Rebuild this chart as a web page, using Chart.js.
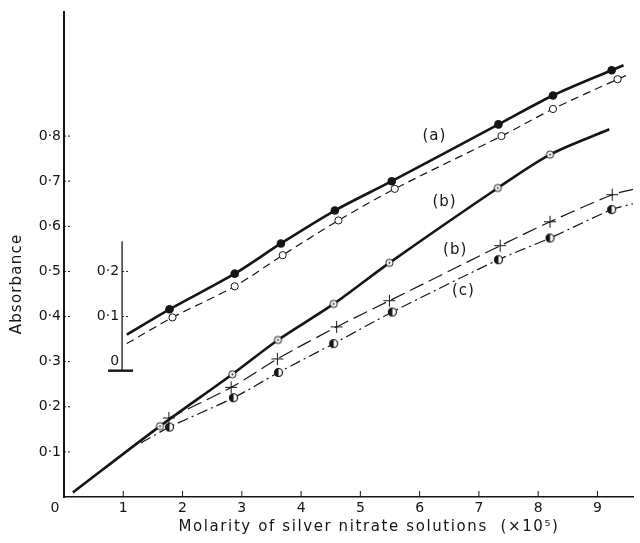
<!DOCTYPE html>
<html lang="en">
<head>
<meta charset="UTF-8">
<title>Absorbance vs molarity of silver nitrate</title>
<script src="https://cdn.jsdelivr.net/npm/chart.js"></script>
<style>
  html, body { margin: 0; padding: 0; background: #fff; }
  #wrap { width: 640px; height: 543px; }
</style>
</head>
<body>
<div id="wrap"><canvas id="chart" width="640" height="543"></canvas></div>
<script>
// axis ticks
const xTicks = [1, 2, 3, 4, 5, 6, 7, 8, 9];
const yTicks = [0.1, 0.2, 0.3, 0.4, 0.5, 0.6, 0.7, 0.8];
// small inset scale used for curve (a), shifted up by 0.3
const insetTicks = [0, 0.1, 0.2];
const insetShift = 0.3;

// (a) filled circles, solid line
const aFilledX = [1.78, 2.88, 3.66, 4.57, 5.53, 7.33, 8.25, 9.24];
const aFilledY = [0.416, 0.495, 0.562, 0.635, 0.700, 0.826, 0.890, 0.946];
const aFilledEnds = [[1.06, 0.360], [9.44, 0.957]];

// (a) open circles, dashed line
const aOpenX = [1.83, 2.88, 3.69, 4.63, 5.58, 7.38, 8.25, 9.34];
const aOpenY = [0.398, 0.467, 0.536, 0.613, 0.683, 0.800, 0.860, 0.926];
const aOpenEnds = [[1.06, 0.340], [9.50, 0.935]];

// (b) dotted circles, solid line
const bDotX = [1.62, 2.84, 3.61, 4.55, 5.49, 7.32, 8.20];
const bDotY = [0.157, 0.272, 0.348, 0.428, 0.519, 0.685, 0.759];
const bDotEnds = [[0.15, 0.010], [9.20, 0.815]];

// (b) crosses, long dashed line
const bPlusX = [1.77, 2.82, 3.60, 4.60, 5.49, 7.36, 8.20, 9.25];
const bPlusY = [0.175, 0.243, 0.306, 0.377, 0.435, 0.557, 0.610, 0.670];
const bPlusEnds = [null, [9.60, 0.682]];

// (c) half filled circles, dash-dot line
const cHalfX = [1.78, 2.86, 3.62, 4.55, 5.54, 7.33, 8.20, 9.24];
const cHalfY = [0.155, 0.220, 0.276, 0.340, 0.410, 0.526, 0.574, 0.637];
const cHalfEnds = [[1.30, 0.120], [9.60, 0.650]];

const curveLabels = ['(a)', '(b)', '(b)', '(c)'];
const curveLabelX = [6.25, 6.42, 6.60, 6.74];
const curveLabelY = [0.800, 0.654, 0.548, 0.456];

const ink = '#151515';
const tickFont = '14px "DejaVu Sans"';

function pts(xs, ys, ends) {
  const out = xs.map((x, i) => ({x: x, y: ys[i]}));
  if (ends[0]) out.unshift({x: ends[0][0], y: ends[0][1], ext: true});
  if (ends[1]) out.push({x: ends[1][0], y: ends[1][1], ext: true});
  return out;
}

function marker(draw) {
  const c = document.createElement('canvas');
  c.width = 11; c.height = 11;
  const g = c.getContext('2d');
  draw(g);
  return c;
}
// circle with a dot in the middle
const dotCircle = marker(g => {
  g.fillStyle = '#fff'; g.strokeStyle = ink; g.lineWidth = 1;
  g.beginPath(); g.arc(5.5, 5.5, 3.6, 0, Math.PI * 2); g.fill(); g.stroke();
  g.fillStyle = ink; g.beginPath(); g.arc(5.5, 5.5, 1, 0, Math.PI * 2); g.fill();
});
// left half black
const halfCircle = marker(g => {
  g.fillStyle = '#fff'; g.strokeStyle = ink; g.lineWidth = 1.2;
  g.beginPath(); g.arc(5.5, 5.5, 4, 0, Math.PI * 2); g.fill(); g.stroke();
  g.fillStyle = ink; g.beginPath(); g.arc(5.5, 5.5, 4.3, Math.PI / 2, Math.PI * 1.5); g.fill();
});

function hideExt(r) {
  return ctx => (ctx.raw && ctx.raw.ext) ? 0 : r;
}

const datasets = [
  {data: pts(aFilledX, aFilledY, aFilledEnds), borderColor: ink, borderWidth: 2.6,
   pointStyle: 'circle', pointRadius: hideExt(4.3), pointBackgroundColor: ink, pointBorderWidth: 0},
  {data: pts(aOpenX, aOpenY, aOpenEnds), borderColor: ink, borderWidth: 1.2, borderDash: [8, 5],
   pointStyle: 'circle', pointRadius: hideExt(3.6), pointBackgroundColor: '#fff', pointBorderColor: ink, pointBorderWidth: 1},
  {data: pts(bDotX, bDotY, bDotEnds), borderColor: ink, borderWidth: 2.6,
   pointStyle: dotCircle, pointRadius: hideExt(4)},
  {data: pts(bPlusX, bPlusY, bPlusEnds), borderColor: ink, borderWidth: 1.2, borderDash: [15, 6],
   pointStyle: 'cross', pointRadius: hideExt(6), pointBorderColor: ink, pointBorderWidth: 1},
  {data: pts(cHalfX, cHalfY, cHalfEnds), borderColor: ink, borderWidth: 1.2, borderDash: [11, 4, 2, 4],
   pointStyle: halfCircle, pointRadius: hideExt(4)}
].map(d => Object.assign({tension: 0.3, fill: false, showLine: true}, d));

// inner ticks, inset scale, loose text
const decor = {
  id: 'decor',
  afterDraw(chart) {
    const {ctx, chartArea: a, scales: {x, y}} = chart;
    ctx.save();
    ctx.strokeStyle = ink; ctx.fillStyle = ink; ctx.lineWidth = 1;
    xTicks.forEach(v => {
      const px = x.getPixelForValue(v);
      ctx.beginPath(); ctx.moveTo(px, a.bottom); ctx.lineTo(px, a.bottom - 6); ctx.stroke();
    });
    ctx.setLineDash([2, 2]);
    yTicks.forEach(v => {
      const py = y.getPixelForValue(v);
      ctx.beginPath(); ctx.moveTo(a.left, py); ctx.lineTo(a.left + 8, py); ctx.stroke();
    });
    ctx.setLineDash([]);

    // corner zero
    ctx.font = tickFont; ctx.textAlign = 'center'; ctx.textBaseline = 'middle';
    ctx.fillText('0', a.left - 9, a.bottom + 11);

    // inset axis for (a)
    const ix = x.getPixelForValue(0.98);
    const iTop = y.getPixelForValue(insetShift + 0.267);
    const iBase = y.getPixelForValue(insetShift - 0.02);
    ctx.lineWidth = 1.3;
    ctx.beginPath(); ctx.moveTo(ix, iTop); ctx.lineTo(ix, iBase); ctx.stroke();
    ctx.lineWidth = 2.4;
    ctx.beginPath(); ctx.moveTo(ix - 14, iBase); ctx.lineTo(ix + 11, iBase); ctx.stroke();
    ctx.lineWidth = 1;
    ctx.textAlign = 'right';
    insetTicks.forEach(t => {
      const py = y.getPixelForValue(insetShift + t);
      const lab = t === 0 ? '0' : t.toFixed(1).replace('.', '·');
      ctx.fillText(lab, ix - 3, py);
      if (t > 0) {
        ctx.setLineDash([2, 2]);
        ctx.beginPath(); ctx.moveTo(ix, py); ctx.lineTo(ix + 7, py); ctx.stroke();
        ctx.setLineDash([]);
      }
    });

    // curve labels
    ctx.font = '15px "DejaVu Sans"'; ctx.textAlign = 'center';
    ctx.letterSpacing = '1px';
    curveLabels.forEach((t, i) => {
      ctx.fillText(t, x.getPixelForValue(curveLabelX[i]), y.getPixelForValue(curveLabelY[i]));
    });

    // axis titles
    ctx.letterSpacing = '1.6px';
    ctx.fillText('Molarity of silver nitrate solutions  (\u00d710\u2075)', 369, 527);
    ctx.translate(17, 284); ctx.rotate(-Math.PI / 2);
    ctx.letterSpacing = '1.2px';
    ctx.fillText('Absorbance', 0, 0);
    ctx.restore();
  }
};

new Chart(document.getElementById('chart'), {
  type: 'scatter',
  data: {datasets: datasets},
  options: {
    responsive: false,
    animation: false,
    layout: {padding: {top: 12, left: 0, right: 0, bottom: 0}},
    plugins: {legend: {display: false}, tooltip: {enabled: false}},
    scales: {
      x: {
        type: 'linear', min: 0, max: 9.6,
        afterBuildTicks: s => { s.ticks = xTicks.map(v => ({value: v})); },
        afterFit: s => { s.height = 46; },
        grid: {display: false, drawTicks: false},
        border: {display: true, color: ink, width: 1.6},
        ticks: {color: ink, font: {family: 'DejaVu Sans', size: 14}, padding: 3, maxRotation: 0,
                callback: v => String(v)}
      },
      y: {
        type: 'linear', min: 0, max: 1.075,
        afterBuildTicks: s => { s.ticks = yTicks.map(v => ({value: v})); },
        afterFit: s => { s.width = 64; },
        grid: {display: false, drawTicks: false},
        border: {display: true, color: ink, width: 2},
        ticks: {color: ink, font: {family: 'DejaVu Sans', size: 14}, padding: 3,
                callback: v => v.toFixed(1).replace('.', '·')}
      }
    }
  },
  plugins: [decor]
});
</script>
</body>
</html>
